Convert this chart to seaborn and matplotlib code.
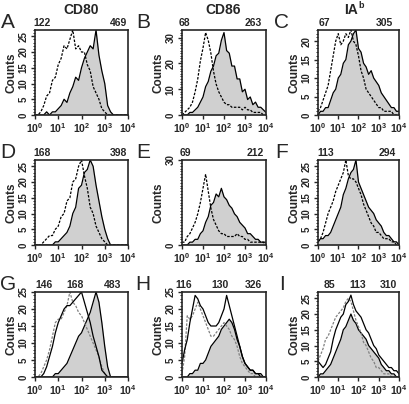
import numpy as np
import pandas as pd
import matplotlib
matplotlib.use("Agg")
import matplotlib.pyplot as plt
from matplotlib.ticker import LogLocator, MultipleLocator, NullFormatter
import seaborn as sns

sns.set_style("ticks")
plt.rcParams['font.family'] = ['Liberation Sans', 'DejaVu Sans']
plt.rcParams['font.weight'] = 'bold'
plt.rcParams['mathtext.fontset'] = 'custom'
plt.rcParams['mathtext.rm'] = 'Liberation Sans:bold'
plt.rcParams['mathtext.bf'] = 'Liberation Sans:bold'
plt.rcParams['mathtext.it'] = 'Liberation Sans:bold'

# fluorescence channels: 33 bins spread over 10^0 .. 10^4
decades = np.linspace(0, 4, 33)
channels = 10 ** decades

# --- histogram counts (ctrl = dashed, open = unfilled solid, stim = grey filled) ---
A_ctrl = [0,0,1,3,6,7,11,12,16,18,22,21,24,27,21,22,20,20,16,14,9,7,5,2,1,0,0,0,0,0,0,0,0]
A_stim = [0,0,0,0,1,0,1,1,2,3,5,4,7,9,12,11,15,18,20,22,21,27,19,14,10,3,1,0,0,0,0,0,0]

B_ctrl = [0,1,2,3,5,9,14,21,26,32,29,24,17,12,9,7,5,4,4,3,3,3,3,2,3,2,2,1,1,1,1,0,0]
B_stim = [0,0,0,1,1,2,3,5,7,11,13,17,19,23,24,29,32,25,24,19,19,14,14,9,10,6,7,4,5,3,3,2,1]

C_ctrl = [1,2,4,6,8,12,16,20,22,19,20,22,21,23,20,19,16,12,10,7,6,5,4,3,2,2,1,1,1,1,0,0,0]
C_stim = [0,1,1,2,2,4,6,7,10,11,14,15,19,20,22,23,18,17,14,13,11,12,10,9,8,6,5,4,3,2,2,1,1]

D_ctrl = [0,0,0,1,2,3,3,5,6,9,10,14,15,20,21,25,27,22,18,12,10,6,4,2,1,0,0,0,0,0,0,0,0]
D_stim = [0,0,0,0,0,0,0,1,1,2,3,4,6,10,12,18,19,23,24,27,25,19,14,9,5,2,0,0,0,0,0,0,0]

E_ctrl = [1,1,3,4,6,8,11,15,20,25,19,13,9,7,5,4,4,3,3,3,3,4,3,3,2,2,1,1,1,1,1,1,0]
E_stim = [0,0,0,1,1,2,2,4,5,8,10,14,15,18,17,20,17,16,14,13,11,10,8,7,6,4,4,3,2,2,1,1,1]

F_ctrl = [1,2,4,7,10,12,14,17,19,21,23,27,22,21,21,20,18,16,13,11,9,7,6,4,4,3,2,2,2,1,1,0,0]
F_stim = [1,2,2,3,3,4,6,8,10,12,16,18,21,23,24,27,20,18,16,14,12,11,10,8,7,6,4,3,3,2,1,1,0]

G_ctrl = [0,0,1,3,5,8,12,16,17,17,19,21,25,22,21,19,18,16,14,12,10,8,6,3,1,0,0,0,0,0,0,0,0]
G_open = [0,0,0,1,3,6,9,13,16,18,20,21,21,22,23,24,25,22,19,16,12,9,6,2,1,0,0,0,0,0,0,0,0]
G_stim = [0,0,0,0,0,0,0,1,1,2,3,4,6,8,10,12,13,15,17,19,22,25,22,16,9,3,0,0,0,0,0,0,0]

H_ctrl = [1,6,18,17,18,20,22,20,18,16,14,12,12,13,14,15,16,15,14,12,11,9,6,4,3,2,1,1,0,0,0,0,0]
H_open = [4,8,11,16,20,24,23,21,20,18,16,15,15,15,16,18,20,24,21,18,15,12,9,6,4,3,2,2,1,1,0,0,0]
H_stim = [0,0,0,1,1,2,2,4,4,5,7,9,10,11,12,14,15,16,17,16,14,11,9,6,4,3,2,2,1,1,1,0,0]

I_ctrl = [5,7,9,12,13,15,17,19,20,21,22,24,25,24,21,18,16,14,11,10,8,6,5,3,3,2,1,1,1,0,0,0,0]
I_open = [5,4,3,4,6,8,12,15,17,19,20,23,24,26,23,21,20,19,17,15,14,12,10,9,7,6,5,4,3,3,2,2,1]
I_stim = [0,1,1,2,3,4,6,8,10,12,15,16,18,20,18,17,15,14,13,12,10,9,8,7,6,4,3,2,2,1,1,0,0]

# mean fluorescence values printed above each histogram
A_mfi = ["122", "469"]
B_mfi = ["68", "263"]
C_mfi = ["67", "305"]
D_mfi = ["168", "398"]
E_mfi = ["69", "212"]
F_mfi = ["113", "294"]
G_mfi = ["146", "168", "483"]
H_mfi = ["116", "130", "326"]
I_mfi = ["85", "113", "310"]

col_titles = ["CD80", "CD86", "IA"]
xtick_labels = [r"$10^{0}$", r"$10^{1}$", r"$10^{2}$", r"$10^{3}$", r"$10^{4}$"]

panels = [
    ("A", A_ctrl, None, A_stim, A_mfi, 27, [0, 5, 10, 15, 20, 25], [0.08, 0.9]),
    ("B", B_ctrl, None, B_stim, B_mfi, 33, [0, 10, 20, 30], [0.03, 0.85]),
    ("C", C_ctrl, None, C_stim, C_mfi, 23, [0, 5, 10, 15, 20], [0.08, 0.82]),
    ("D", D_ctrl, None, D_stim, D_mfi, 27, [0, 5, 10, 15, 20, 25], [0.08, 0.9]),
    ("E", E_ctrl, None, E_stim, E_mfi, 30, [0, 30], [0.04, 0.87]),
    ("F", F_ctrl, None, F_stim, F_mfi, 27, [0, 5, 10, 15, 20, 25], [0.1, 0.85]),
    ("G", G_ctrl, G_open, G_stim, G_mfi, 25, [0, 5, 10, 15, 20, 25], [0.1, 0.43, 0.83]),
    ("H", H_ctrl, H_open, H_stim, H_mfi, 25, [0, 5, 10, 15, 20, 25], [0.02, 0.45, 0.85]),
    ("I", I_ctrl, I_open, I_stim, I_mfi, 27, [0, 5, 10, 15, 20, 25], [0.14, 0.49, 0.87]),
]

W, H = 410, 404
fig = plt.figure(figsize=(W / 100, H / 100), dpi=100)

col_left = [35, 182, 318]
col_width = [93, 84, 81]
row_top = [30, 160, 292]
row_h = 85
letter_x = [8, 143, 282]
title_x = [81, 223, 351]

for i, (letter, ctrl, open_, stim, mfi, ymax, yticks, mfi_x) in enumerate(panels):
    r, c = divmod(i, 3)
    ax = fig.add_axes([col_left[c] / W, 1 - (row_top[r] + row_h) / H,
                       col_width[c] / W, row_h / H])

    ax.fill_between(channels, stim, color="#d0d0d0", lw=0)
    sns.lineplot(x=channels, y=stim, ax=ax, color="black", lw=0.9)
    ctrl_col = "#808080" if open_ is not None else "black"
    sns.lineplot(x=channels, y=ctrl, ax=ax, color=ctrl_col, lw=0.9,
                 linestyle=(0, (2, 1.2)))
    if open_ is not None:
        sns.lineplot(x=channels, y=open_, ax=ax, color="black", lw=0.9)

    ax.set_xscale("log")
    ax.set_xlim(1, 1e4)
    ax.set_ylim(0, ymax)
    ax.set_xticks([1, 10, 100, 1000, 10000])
    ax.set_xticklabels(xtick_labels, fontsize=7.5)
    ax.xaxis.set_minor_locator(LogLocator(base=10, subs=np.arange(2, 10)))
    ax.xaxis.set_minor_formatter(NullFormatter())
    ax.set_yticks(yticks)
    ax.set_yticklabels([str(t) for t in yticks], fontsize=7, rotation=90,
                       va="center", fontweight="bold")
    ax.yaxis.set_minor_locator(MultipleLocator(1))
    ax.tick_params(which="major", length=3, width=1.0, pad=1.5)
    ax.tick_params(which="minor", left=True, bottom=True, length=1.8, width=0.7)
    ax.set_xlabel("")
    ax.set_ylabel("Counts", fontsize=8.5, fontweight="bold", labelpad=1)
    for sp in ax.spines.values():
        sp.set_linewidth(1.2)

    for txt, xf in zip(mfi, mfi_x):
        ax.text(xf, 1.02, txt, transform=ax.transAxes, ha="center",
                va="bottom", fontsize=7.5, fontweight="bold")

    fig.text(letter_x[c] / W, 1 - (row_top[r] - 8) / H, letter,
             fontsize=15, fontweight="normal", ha="center", va="center")

for c, title in enumerate(col_titles):
    fig.text(title_x[c] / W, 1 - 10 / H, title,
             fontsize=10, fontweight="bold", ha="center", va="center")

# superscript "b" of the MHC class II title
fig.text(358 / W, 1 - 6 / H, "b",
         fontsize=6.5, fontweight="bold", ha="left", va="center")

fig.savefig("out.png", dpi=100)
